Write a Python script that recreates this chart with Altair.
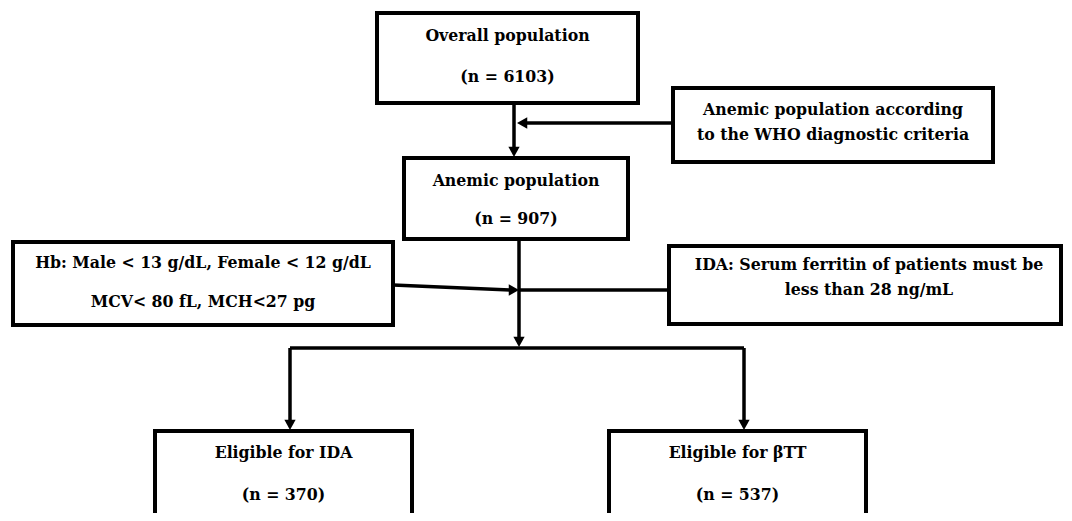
import altair as alt
import pandas as pd

# ---- content ----
box_ids = ["overall", "who", "anemic", "hb", "ida_rule", "ida", "btt"]
line1 = ["Overall population", "Anemic population according", "Anemic population",
         "Hb: Male < 13 g/dL, Female < 12 g/dL", "IDA: Serum ferritin of patients must be",
         "Eligible for IDA", "Eligible for \u03b2TT"]
line2 = ["(n = 6103)", "to the WHO diagnostic criteria", "(n = 907)",
         "MCV< 80 fL, MCH<27 pg", "less than 28 ng/mL", "(n = 370)", "(n = 537)"]

# ---- layout (pixel coordinates of the diagram) ----
bx1 = [377, 673, 404, 13, 669, 155, 609]
bx2 = [638, 993, 628, 393, 1061, 412, 866]
by1 = [13, 88, 158, 242, 246, 431, 431]
by2 = [103, 162, 239, 325, 324, 560, 560]
ty1 = [36, 110, 181, 263, 265, 453, 453]
ty2 = [77, 135, 219, 302, 290, 495, 495]

seg_x = [514, 673, 519, 393, 519, 290, 290, 744]
seg_y = [103, 123, 239, 285, 290, 348, 348, 348]
seg_x2 = [514, 522, 519, 510, 669, 744, 290, 744]
seg_y2 = [150, 123, 340, 290, 290, 348, 422, 422]

head_x = [514, 517, 519, 519, 290, 744]
head_y = [157, 123, 347, 290, 430, 430]
head_dir = ["down", "left", "down", "right", "down", "down"]

boxes = pd.DataFrame({"id": box_ids, "x1": bx1, "x2": bx2, "y1": by1, "y2": by2})
text_cx = [(a + b) / 2 for a, b in zip(bx1, bx2)]
text_cx[4] = 869
texts = pd.DataFrame({
    "x": text_cx * 2,
    "y": ty1 + ty2,
    "label": line1 + line2,
})
segs = pd.DataFrame({"x": seg_x, "y": seg_y, "x2": seg_x2, "y2": seg_y2})
heads = pd.DataFrame({"x": head_x, "y": head_y, "dir": head_dir})

xs = alt.Scale(domain=[8, 1064])
ys = alt.Scale(domain=[8, 513], reverse=True)

rects = alt.Chart(boxes).mark_rect(fill="white", stroke="black", strokeWidth=4, clip=True).encode(
    x=alt.X("x1:Q", scale=xs, axis=None), x2="x2:Q",
    y=alt.Y("y1:Q", scale=ys, axis=None), y2="y2:Q",
)

lines = alt.Chart(segs).mark_rule(color="black", strokeWidth=3.5, strokeCap="butt").encode(
    x=alt.X("x:Q", scale=xs, axis=None), x2="x2:Q",
    y=alt.Y("y:Q", scale=ys, axis=None), y2="y2:Q",
)

shapes = {
    "down": "M0,0L-0.55,-1L0.55,-1Z",
    "left": "M0,0L1,-0.55L1,0.55Z",
    "right": "M0,0L-1,-0.55L-1,0.55Z",
}
head_layers = []
for d, path in shapes.items():
    head_layers.append(
        alt.Chart(heads[heads["dir"] == d]).mark_point(
            shape=path, filled=True, color="black", size=420, opacity=1, strokeWidth=0
        ).encode(
            x=alt.X("x:Q", scale=xs, axis=None),
            y=alt.Y("y:Q", scale=ys, axis=None),
        )
    )

labels = alt.Chart(texts).mark_text(
    font="DejaVu Serif Condensed, DejaVu Serif", fontWeight="bold", fontSize=17.5,
    color="black", baseline="middle", align="center"
).encode(
    x=alt.X("x:Q", scale=xs, axis=None),
    y=alt.Y("y:Q", scale=ys, axis=None),
    text="label:N",
)

chart = alt.layer(lines, *head_layers, rects, labels).properties(
    width=1056, height=505, padding=0, background="white"
).configure_view(stroke=None)

chart.save("out.html", embed_options={"renderer": "svg", "actions": False})
